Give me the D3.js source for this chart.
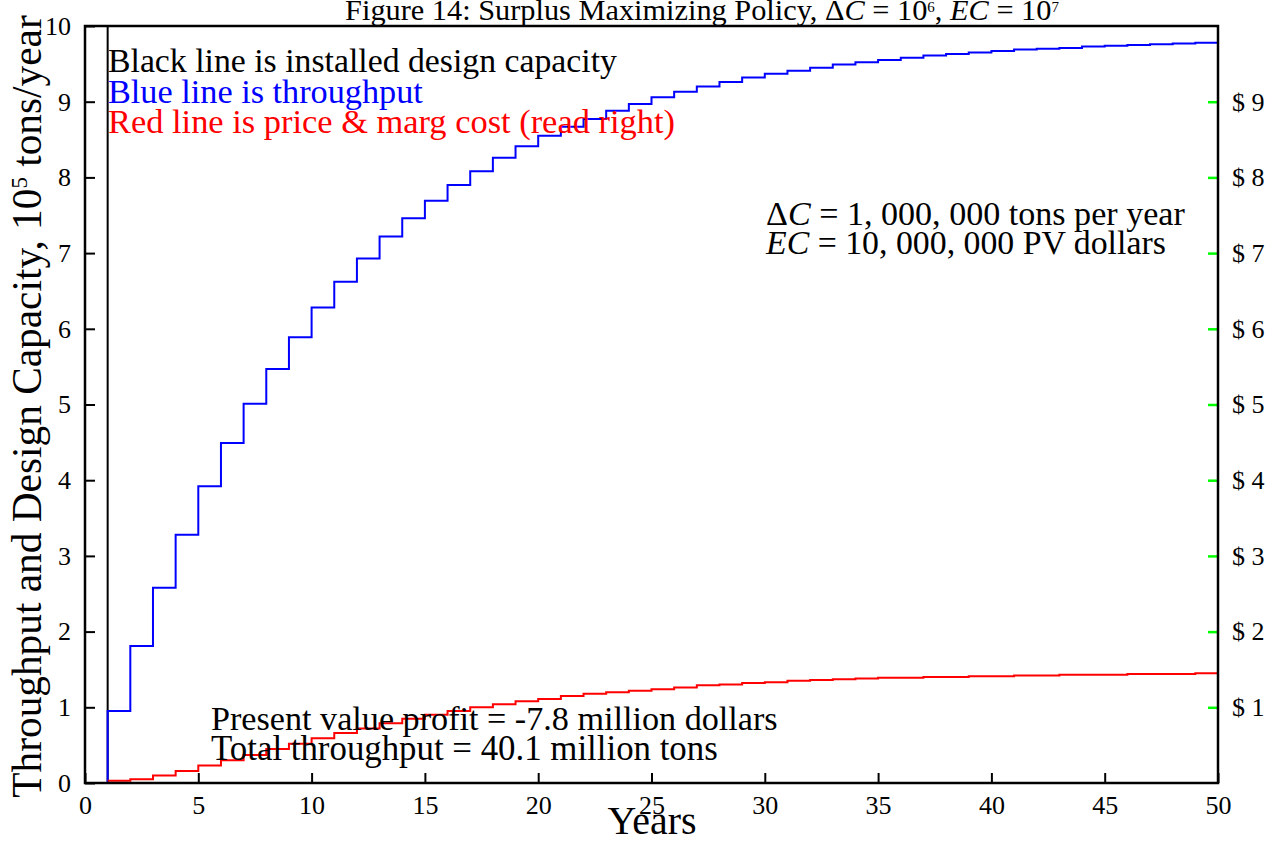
<!DOCTYPE html>
<html><head><meta charset="utf-8">
<script src="https://cdn.jsdelivr.net/npm/d3@7"></script>
<style>
body{margin:0;background:#fff}
text{font-family:"Liberation Serif","DejaVu Serif",serif;fill:#000}
</style>
</head><body>
<svg id="c" width="1274" height="841"></svg>
<script>
// ---- data ----
const years = [1,2,3,4,5,6,7,8,9,10,11,12,13,14,15,16,17,18,19,20,21,22,23,24,25,26,27,28,29,30,31,32,33,34,35,36,37,38,39,40,41,42,43,44,45,46,47,48,49,50];
// throughput (10^5 tons/year), step value for year i..i+1
const throughput = [0.95,1.81,2.58,3.28,3.92,4.49,5.01,5.47,5.89,6.28,6.62,6.93,7.22,7.46,7.69,7.90,8.08,8.26,8.41,8.55,8.67,8.77,8.88,8.97,9.06,9.13,9.20,9.26,9.32,9.37,9.41,9.45,9.49,9.52,9.55,9.58,9.61,9.63,9.65,9.67,9.69,9.70,9.71,9.73,9.74,9.75,9.76,9.77,9.78,9.78];
// price & marginal cost ($, right axis)
const price = [0.03,0.05,0.10,0.16,0.23,0.30,0.37,0.45,0.52,0.59,0.66,0.72,0.79,0.85,0.90,0.95,1.00,1.04,1.08,1.11,1.15,1.18,1.20,1.22,1.24,1.26,1.29,1.30,1.32,1.33,1.35,1.36,1.37,1.38,1.39,1.39,1.40,1.40,1.41,1.41,1.42,1.42,1.43,1.43,1.43,1.44,1.44,1.44,1.45,1.45];
// installed design capacity
const capYears = [0,1,50];
const capacity = [0,10,10];
const xTicks = [0,5,10,15,20,25,30,35,40,45,50];
const yTicks = [0,1,2,3,4,5,6,7,8,9,10];
const rightTicks = [1,2,3,4,5,6,7,8,9];
const rightTickLabels = ["$ 1","$ 2","$ 3","$ 4","$ 5","$ 6","$ 7","$ 8","$ 9"];

// ---- layout ----
const L=85,R=1218,T=26,B=783;
const svg=d3.select("#c");
const x=d3.scaleLinear().domain([0,50]).range([L,R]);
const y=d3.scaleLinear().domain([0,10]).range([B,T]);
const yR=d3.scaleLinear().domain([0,10]).range([B,T]);

function fit(sel,w){const n=sel.node();const cur=parseFloat(sel.attr("font-size"));const len=n.getComputedTextLength();sel.attr("font-size",cur*w/len);}

svg.append("clipPath").attr("id","clip").append("rect").attr("x",L).attr("y",T-1).attr("width",R-L).attr("height",B-T+2);

// axes
const gl=svg.append("g").attr("transform",`translate(${L},0)`)
  .call(d3.axisLeft(y).tickValues(yTicks).tickSizeInner(-10).tickSizeOuter(0).tickPadding(14));
const gb=svg.append("g").attr("transform",`translate(0,${B})`)
  .call(d3.axisBottom(x).tickValues(xTicks).tickSizeInner(-10).tickSizeOuter(0).tickPadding(13));
const gr=svg.append("g").attr("transform",`translate(${R},0)`)
  .call(d3.axisRight(yR).tickValues(rightTicks).tickFormat((d,i)=>rightTickLabels[i]).tickSizeInner(-10).tickSizeOuter(0).tickPadding(14));
[gl,gb,gr].forEach(g=>{g.select(".domain").remove();g.selectAll("text").attr("font-size",26).attr("font-family",null).style("font-family",'"Liberation Serif",serif');g.selectAll("line").attr("stroke-width",2);});
gr.selectAll("line").attr("stroke","#00ff00").attr("stroke-width",2.5);

const line=d3.line().x(d=>x(d[0])).y(d=>y(d[1])).curve(d3.curveStepAfter);
const plot=svg.append("g").attr("clip-path","url(#clip)");
plot.append("path").datum(capYears.map((d,i)=>[d,capacity[i]])).attr("d",line).attr("fill","none").attr("stroke","#000").attr("stroke-width",2);
plot.append("path").datum([[1,0]].concat(years.map((d,i)=>[d,throughput[i]]))).attr("d",line).attr("fill","none").attr("stroke","#0000ff").attr("stroke-width",2);
plot.append("path").datum(years.map((d,i)=>[d,price[i]])).attr("d",d3.line().x(d=>x(d[0])).y(d=>yR(d[1])).curve(d3.curveStepAfter)).attr("fill","none").attr("stroke","#ff0000").attr("stroke-width",2);

// frame
svg.append("rect").attr("x",L).attr("y",T).attr("width",R-L).attr("height",B-T).attr("fill","none").attr("stroke","#000").attr("stroke-width",2.5);

// title
const title=svg.append("text").attr("x",702).attr("y",20).attr("text-anchor","middle").attr("font-size",20);
title.append("tspan").text("Figure 14: Surplus Maximizing Policy, Δ");
title.append("tspan").attr("font-style","italic").text("C");
title.append("tspan").text(" = 10");
title.append("tspan").attr("font-size",15).attr("dy",-8).text("6");
title.append("tspan").attr("dy",8).text(", ");
title.append("tspan").attr("font-style","italic").text("EC");
title.append("tspan").text(" = 10");
title.append("tspan").attr("font-size",15).attr("dy",-8).text("7");
fit(title,722);

// axis titles
const yl=svg.append("text").attr("transform","rotate(-90)").attr("x",-(T+B)/2-2).attr("y",41).attr("text-anchor","middle").attr("font-size",34);
yl.append("tspan").text("Throughput and Design Capacity, 10");
yl.append("tspan").attr("font-size",23).attr("dy",-14).text("5");
yl.append("tspan").attr("dy",14).text(" tons/year");
fit(yl,785);
const xl=svg.append("text").attr("x",652).attr("y",834).attr("text-anchor","middle").attr("font-size",34).text("Years");
fit(xl,89);

// annotations
function ann(xp,yp,w,color,parts){const t=svg.append("text").attr("x",xp).attr("y",yp).attr("font-size",28).style("fill",color);
  parts.forEach(p=>{const s=t.append("tspan").text(p[0]);if(p[1])s.attr("font-style","italic");});fit(t,w);return t;}
ann(108,72,509,"#000",[["Black line is installed design capacity"]]);
ann(108,103,315,"#0000ff",[["Blue line is throughput"]]);
ann(108,133,567,"#ff0000",[["Red line is price & marg cost (read right)"]]);
ann(766,225,419,"#000",[["Δ"],["C",1],[" = 1, 000, 000 tons per year"]]);
ann(766,254,400,"#000",[["EC",1],[" = 10, 000, 000 PV dollars"]]);
ann(211,730,567,"#000",[["Present value profit = -7.8 million dollars"]]);
ann(211,760,507,"#000",[["Total throughput = 40.1 million tons"]]);
</script>
</body></html>
